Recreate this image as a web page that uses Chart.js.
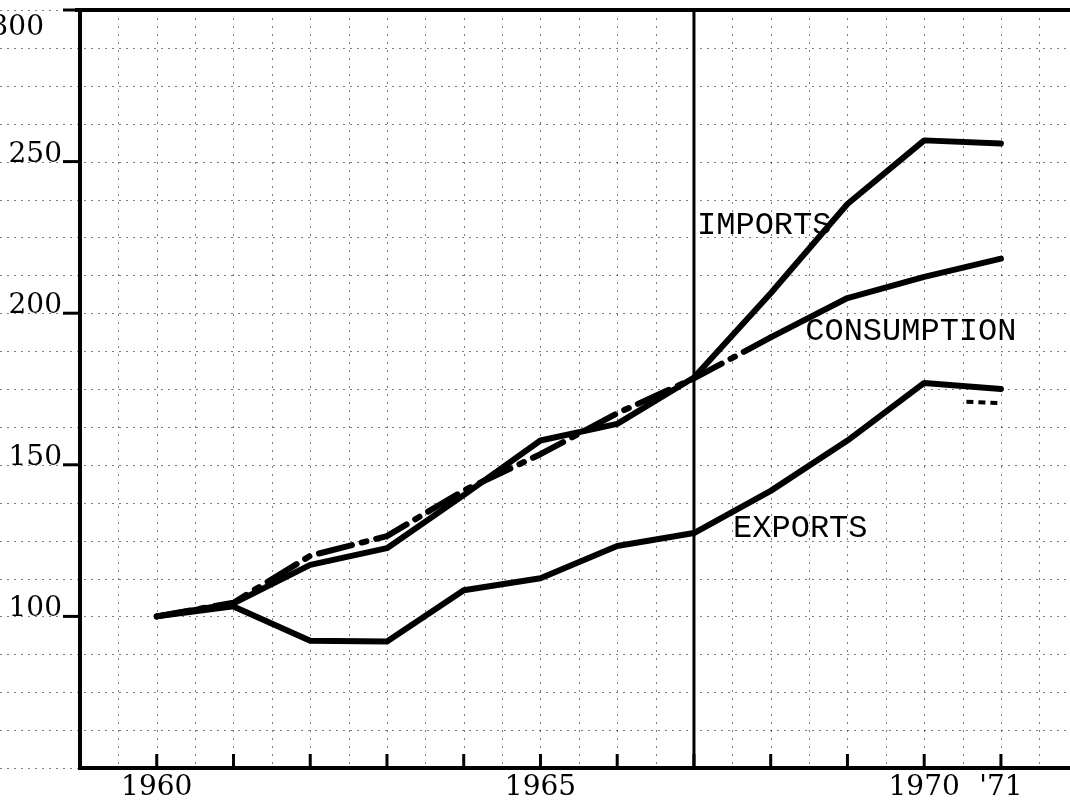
<!DOCTYPE html>
<html>
<head>
<meta charset="utf-8">
<script src="https://cdn.jsdelivr.net/npm/chart.js@4.4.1/dist/chart.umd.min.js"></script>
<style>
  html, body { margin: 0; padding: 0; background: #ffffff; }
  #wrap { width: 1070px; height: 804px; position: relative; overflow: hidden; }
</style>
</head>
<body>
<div id="wrap"><canvas id="c" width="1070" height="804"></canvas></div>
<script>
// ---- data (index, 1960 = 100) ----
const years = [1960, 1961, 1962, 1963, 1964, 1965, 1966, 1967, 1968, 1969, 1970, 1971];
const importsIdx     = [100, 104.3, 117.0, 122.5, 140.0, 158.0, 163.5, 178.8, 206.6, 236.0, 257.0, 256.0];
const consumptionIdx = [100, 104.5, 120.0, 126.5, 141.5, 153.5, 167.0, 178.5, 192.0, 205.0, 212.0, 218.0];
const exportsIdx     = [100, 103.3,  92.0,  91.7, 108.6, 112.6, 123.2, 127.5, 141.4, 158.0, 177.0, 175.0];
const exportsAltYears = [1970.55, 1971];
const exportsAltIdx   = [170.8, 170.3];
const yTickValues = [100, 150, 200, 250, 300];
const yTickLabels = ['100', '150', '200', '250', '300'];
const xTickYears  = [1960, 1965, 1970, 1971];
const xTickLabels = ['1960', '1965', '1970', "'71"];
const dividerYear = 1967;
const seriesNames = ['IMPORTS', 'CONSUMPTION', 'EXPORTS'];
const seriesNameAnchors = [[1967.04, 229], [1968.45, 194], [1967.51, 129.1]];

const toXY = (xs, ys) => xs.map((x, i) => ({ x: x, y: ys[i] }));
const labelFor = {};
xTickYears.forEach((y, i) => { labelFor[y] = xTickLabels[i]; });

const SERIF = '"DejaVu Serif", "Liberation Serif", serif';
const MONO = '"Liberation Mono", "DejaVu Sans Mono", monospace';

const paperPlugin = {
  id: 'paper',
  beforeDatasetsDraw(chart) {
    const ctx = chart.ctx, a = chart.chartArea;
    const xs = chart.scales.x, ys = chart.scales.y;
    ctx.save();
    ctx.strokeStyle = 'rgba(0,0,0,0.5)';
    ctx.lineWidth = 1;
    ctx.setLineDash([2, 5]);
    for (let v = 50; v <= 300.01; v += 12.5) {
      const y = Math.round(ys.getPixelForValue(v)) + 0.5;
      ctx.beginPath(); ctx.moveTo(0, y); ctx.lineTo(chart.width, y); ctx.stroke();
    }
    ctx.setLineDash([2, 6]);
    for (let t = 1959.5; t <= 1972; t += 0.5) {
      const x = Math.round(xs.getPixelForValue(t)) + 0.5;
      if (x <= a.left + 3 || x > chart.width) continue;
      ctx.beginPath(); ctx.moveTo(x, a.top); ctx.lineTo(x, a.bottom); ctx.stroke();
    }
    ctx.setLineDash([]);
    // divider at 1967
    const dx = xs.getPixelForValue(dividerYear);
    ctx.strokeStyle = '#000'; ctx.lineWidth = 3;
    ctx.beginPath(); ctx.moveTo(dx, a.top); ctx.lineTo(dx, a.bottom); ctx.stroke();
    ctx.restore();
  },
  afterDraw(chart) {
    const ctx = chart.ctx, a = chart.chartArea;
    const xs = chart.scales.x, ys = chart.scales.y;
    ctx.save();
    ctx.strokeStyle = '#000';
    ctx.fillStyle = '#000';
    // frame: top and axes
    ctx.lineWidth = 4;
    ctx.beginPath(); ctx.moveTo(a.left - 5, a.top); ctx.lineTo(chart.width, a.top); ctx.stroke();
    ctx.beginPath(); ctx.moveTo(a.left, a.top - 2); ctx.lineTo(a.left, a.bottom + 2); ctx.stroke();
    ctx.beginPath(); ctx.moveTo(a.left - 2, a.bottom); ctx.lineTo(chart.width, a.bottom); ctx.stroke();
    // x tick marks (inside the plot)
    ctx.lineWidth = 3;
    years.forEach(yr => {
      const x = xs.getPixelForValue(yr);
      ctx.beginPath(); ctx.moveTo(x, a.bottom); ctx.lineTo(x, a.bottom - 14); ctx.stroke();
    });
    // y tick marks and labels
    ctx.font = '28px ' + SERIF;
    ctx.textAlign = 'right';
    ctx.textBaseline = 'alphabetic';
    yTickValues.forEach((v, i) => {
      const y = ys.getPixelForValue(v);
      ctx.lineWidth = 3;
      ctx.beginPath(); ctx.moveTo(a.left - 17, y); ctx.lineTo(a.left, y); ctx.stroke();
      let base = y, xr = a.left - 18;
      if (y - 22 < 0) { base = y + 25; xr = a.left - 36; }
      ctx.fillText(yTickLabels[i], xr, base);
    });
    // series names
    ctx.font = '32px ' + MONO;
    ctx.textAlign = 'left';
    ctx.textBaseline = 'middle';
    seriesNames.forEach((n, i) => {
      const p = seriesNameAnchors[i];
      ctx.fillText(n, xs.getPixelForValue(p[0]), ys.getPixelForValue(p[1]));
    });
    ctx.restore();
  }
};

const lineBase = {
  borderColor: '#000',
  backgroundColor: '#000',
  borderWidth: 6,
  pointRadius: 0,
  tension: 0,
  fill: false,
  borderCapStyle: 'round',
  borderJoinStyle: 'round'
};

new Chart(document.getElementById('c'), {
  type: 'line',
  data: {
    datasets: [
      Object.assign({}, lineBase, { label: 'EXPORTS', data: toXY(years, exportsIdx) }),
      Object.assign({}, lineBase, { label: 'EXPORTS (alt.)', data: toXY(exportsAltYears, exportsAltIdx), borderWidth: 4, borderDash: [7, 5], borderCapStyle: 'butt' }),
      Object.assign({}, lineBase, { label: 'IMPORTS', data: toXY(years, importsIdx) }),
      Object.assign({}, lineBase, {
        label: 'CONSUMPTION', data: toXY(years, consumptionIdx),
        segment: { borderDash: c => (c.p0DataIndex < 8 ? [34, 10, 5, 10] : undefined) }
      })
    ]
  },
  options: {
    responsive: false,
    animation: false,
    devicePixelRatio: 1,
    layout: { padding: { top: 10, right: 0, left: 0, bottom: 0 } },
    plugins: { legend: { display: false }, tooltip: { enabled: false } },
    scales: {
      x: {
        type: 'linear',
        min: 1959,
        max: 1971.9,
        grid: { display: false, drawTicks: false },
        border: { display: false },
        afterFit: s => { s.height = 36; },
        afterBuildTicks: s => { s.ticks = xTickYears.map(v => ({ value: v })); },
        ticks: {
          autoSkip: false,
          maxRotation: 0,
          padding: 3,
          color: '#000',
          font: { family: SERIF, size: 28 },
          callback: v => (labelFor[v] !== undefined ? labelFor[v] : '')
        }
      },
      y: {
        type: 'linear',
        min: 50,
        max: 300,
        grid: { display: false, drawTicks: false },
        border: { display: false },
        afterFit: s => { s.width = 80; },
        ticks: { display: false, stepSize: 50 }
      }
    }
  },
  plugins: [paperPlugin]
});
</script>
</body>
</html>
